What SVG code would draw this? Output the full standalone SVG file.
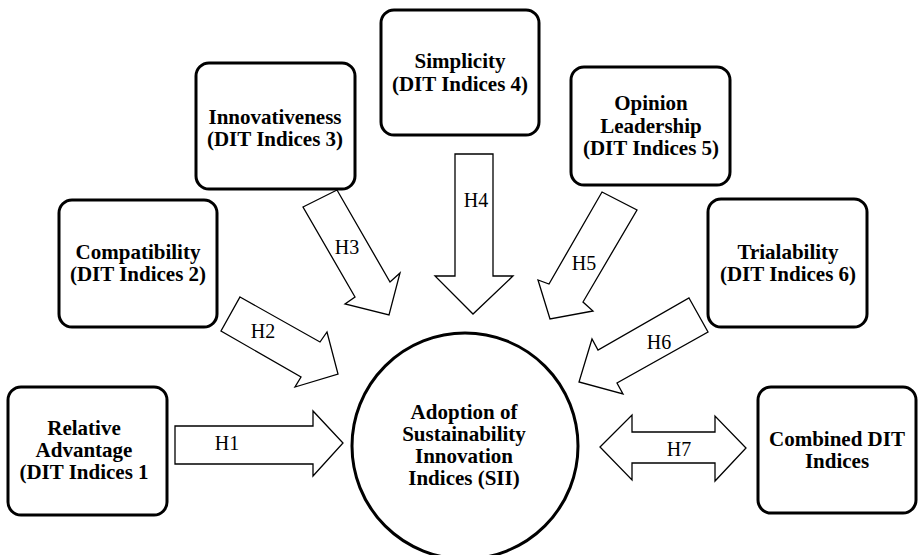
<svg xmlns="http://www.w3.org/2000/svg" width="918" height="555" viewBox="0 0 918 555">
<style>
.box{fill:#fff;stroke:#000;stroke-width:3}
.t{font-family:'Liberation Serif','Times New Roman',Times,'DejaVu Serif',serif;font-weight:700;font-size:21px;text-anchor:middle;fill:#000}
.arr{fill:#fff;stroke:#000;stroke-width:1.3;stroke-linejoin:miter}
.lbl{font-family:'Liberation Serif','Times New Roman',Times,'DejaVu Serif',serif;font-size:20px;text-anchor:middle;fill:#000}
</style>
<rect width="918" height="555" fill="#fff"/>
<g id="connectors">
<polygon class="arr" points="175,426 313,426 313,411 343,443 313,476 313,464 175,464"/>
<polygon class="arr" points="240,297 320,342 327,332 338,374 295,387 301,377 221,331"/>
<polygon class="arr" points="303,207 337,190 390,282 400,273 389,315 345,304 355,297"/>
<polygon class="arr" points="455,154 493,154 493,276 513,276 473,314 435,276 455,276"/>
<polygon class="arr" points="602,192 637,210 583,302 593,311 550,319 538,280 549,284"/>
<polygon class="arr" points="689,298 708,332 617,383 623,394 579,382 592,339 598,350"/>
<polygon class="arr" points="600,447 632,415 632,432 715,432 715,416 746,448 715,481 715,463 632,463 632,480"/>
<text class="lbl" x="227" y="450">H1</text>
<text class="lbl" x="263" y="338">H2</text>
<text class="lbl" x="347" y="254">H3</text>
<text class="lbl" x="476" y="207">H4</text>
<text class="lbl" x="584" y="270">H5</text>
<text class="lbl" x="659" y="349">H6</text>
<text class="lbl" x="679" y="456">H7</text>
</g>
<g id="n-sii">
<circle cx="465" cy="446" r="113" fill="#fff" stroke="#000" stroke-width="3"/>
<text class="t" x="464" y="419">Adoption of</text>
<text class="t" x="464" y="441">Sustainability</text>
<text class="t" x="464" y="463">Innovation</text>
<text class="t" x="464" y="485">Indices (SII)</text>
</g>
<g id="n-relative">
<rect class="box" x="8" y="387" width="159" height="128" rx="13"/>
<text class="t" x="84" y="435">Relative</text>
<text class="t" x="84" y="457">Advantage</text>
<text class="t" x="84" y="479">(DIT Indices 1</text>
</g>
<g id="n-compat">
<rect class="box" x="59" y="200" width="158" height="127" rx="13"/>
<text class="t" x="138" y="259">Compatibility</text>
<text class="t" x="138" y="281">(DIT Indices 2)</text>
</g>
<g id="n-innov">
<rect class="box" x="196" y="63" width="159" height="126" rx="13"/>
<text class="t" x="275" y="124">Innovativeness</text>
<text class="t" x="275" y="146">(DIT Indices 3)</text>
</g>
<g id="n-simp">
<rect class="box" x="381" y="10" width="158" height="125" rx="13"/>
<text class="t" x="460" y="68">Simplicity</text>
<text class="t" x="460" y="91">(DIT Indices 4)</text>
</g>
<g id="n-opinion">
<rect class="box" x="571" y="67" width="159" height="118" rx="13"/>
<text class="t" x="651" y="110">Opinion</text>
<text class="t" x="651" y="133">Leadership</text>
<text class="t" x="651" y="155">(DIT Indices 5)</text>
</g>
<g id="n-trial">
<rect class="box" x="708" y="199" width="159" height="128" rx="13"/>
<text class="t" x="788" y="259">Trialability</text>
<text class="t" x="788" y="281">(DIT Indices 6)</text>
</g>
<g id="n-combined">
<rect class="box" x="758" y="387" width="158" height="126" rx="13"/>
<text class="t" x="837" y="446">Combined DIT</text>
<text class="t" x="837" y="468">Indices</text>
</g>
</svg>
